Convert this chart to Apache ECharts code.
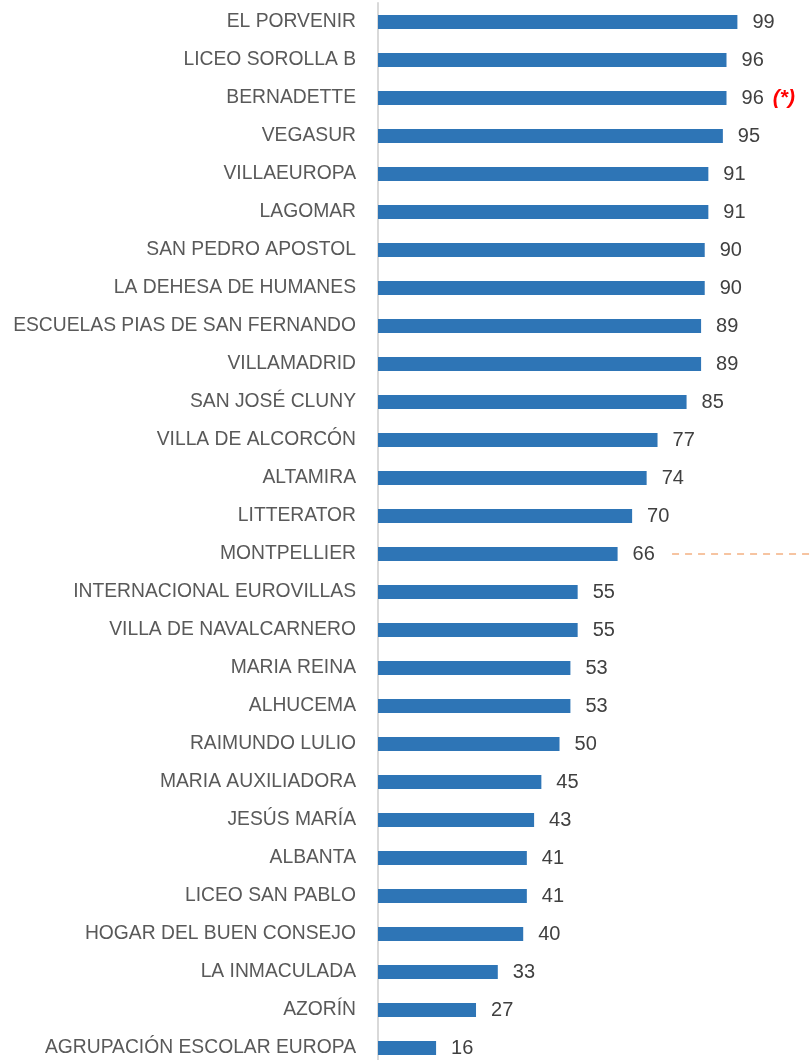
<!DOCTYPE html>
<html>
<head>
<meta charset="utf-8">
<script src="https://cdn.jsdelivr.net/npm/echarts@6/dist/echarts.min.js"></script>
<style>
  html, body { margin: 0; padding: 0; background: #fff; overflow: hidden; }
  #chart { width: 810px; height: 1070px; }
</style>
</head>
<body>
<div id="chart"></div>
<script>
const schools = [
  'EL PORVENIR', 'LICEO SOROLLA B', 'BERNADETTE', 'VEGASUR', 'VILLAEUROPA',
  'LAGOMAR', 'SAN PEDRO APOSTOL', 'LA DEHESA DE HUMANES', 'ESCUELAS PIAS DE SAN FERNANDO',
  'VILLAMADRID', 'SAN JOSÉ CLUNY', 'VILLA DE ALCORCÓN', 'ALTAMIRA', 'LITTERATOR',
  'MONTPELLIER', 'INTERNACIONAL EUROVILLAS', 'VILLA DE NAVALCARNERO', 'MARIA REINA',
  'ALHUCEMA', 'RAIMUNDO LULIO', 'MARIA AUXILIADORA', 'JESÚS MARÍA', 'ALBANTA',
  'LICEO SAN PABLO', 'HOGAR DEL BUEN CONSEJO', 'LA INMACULADA', 'AZORÍN',
  'AGRUPACIÓN ESCOLAR EUROPA'
]
const scores = [99, 96, 96, 95, 91, 91, 90, 90, 89, 89, 85, 77, 74, 70, 66, 55, 55, 53, 53, 50, 45, 43, 41, 41, 40, 33, 27, 16]
const flagged = ['BERNADETTE']
// dashed reference line next to the MONTPELLIER bar
const refCategory = 'MONTPELLIER'
const refRange = [81, 119]

const chart = echarts.init(document.getElementById('chart'))

chart.setOption({
  animation: false,
  grid: { left: 378, top: 3, width: 432, height: 1064 },
  xAxis: {
    type: 'value',
    min: 0,
    max: 119,
    show: false
  },
  yAxis: {
    type: 'category',
    data: schools,
    inverse: true,
    axisLine: { show: true, lineStyle: { color: '#d9d9d9', width: 2 } },
    axisTick: { show: false },
    axisLabel: {
      color: '#595959',
      fontSize: 19.3,
      fontFamily: 'Liberation Sans',
      margin: 22
    }
  },
  series: [
    {
      type: 'bar',
      data: scores,
      barWidth: 14,
      itemStyle: { color: '#2E75B6' },
      label: {
        show: true,
        position: 'right',
        distance: 15,
        color: '#404040',
        fontSize: 20,
        fontFamily: 'Liberation Sans',
        formatter: (p) => flagged.includes(p.name) ? p.value + '{star|(*)}' : String(p.value),
        rich: {
          star: {
            color: '#ff0000', fontStyle: 'italic', fontWeight: 'bold', fontSize: 21,
            fontFamily: 'Liberation Sans', padding: [0, 0, 0, 9]
          }
        }
      },
      markLine: {
        silent: true,
        symbol: 'none',
        label: { show: false },
        lineStyle: { color: '#F4B183', type: [7, 6], width: 1.5 },
        data: [[
          { coord: [refRange[0], refCategory] },
          { coord: [refRange[1], refCategory] }
        ]]
      }
    }
  ]
})
</script>
</body>
</html>
